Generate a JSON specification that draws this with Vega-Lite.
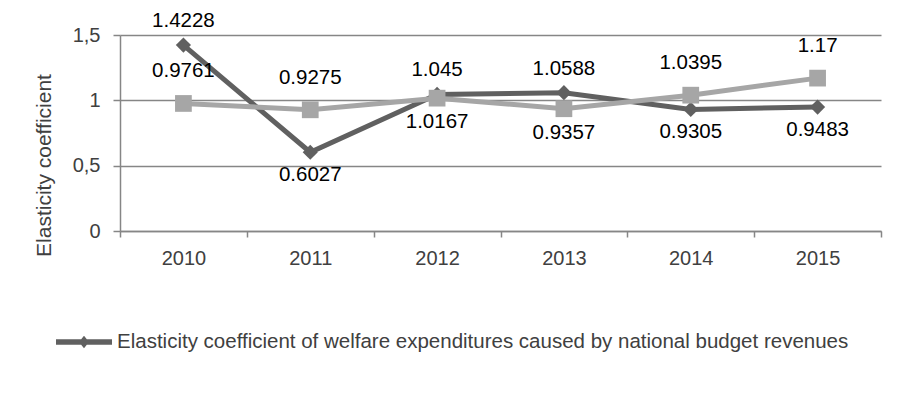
{
  "$schema": "https://vega.github.io/schema/vega-lite/v6.json",
  "width": 761,
  "height": 196,
  "autosize": {"type": "none"},
  "padding": {"left": 120, "top": 35, "right": 30, "bottom": 171},
  "background": "white",
  "config": {"view": {"stroke": null}, "font": "Liberation Sans"},
  "data": {
    "values": [
      {"year": "2010", "series": "Elasticity coefficient of welfare expenditures caused by national budget revenues", "value": 1.4228},
      {"year": "2011", "series": "Elasticity coefficient of welfare expenditures caused by national budget revenues", "value": 0.6027},
      {"year": "2012", "series": "Elasticity coefficient of welfare expenditures caused by national budget revenues", "value": 1.045},
      {"year": "2013", "series": "Elasticity coefficient of welfare expenditures caused by national budget revenues", "value": 1.0588},
      {"year": "2014", "series": "Elasticity coefficient of welfare expenditures caused by national budget revenues", "value": 0.9305},
      {"year": "2015", "series": "Elasticity coefficient of welfare expenditures caused by national budget revenues", "value": 0.9483},
      {"year": "2010", "series": "Series 2", "value": 0.9761},
      {"year": "2011", "series": "Series 2", "value": 0.9275},
      {"year": "2012", "series": "Series 2", "value": 1.0167},
      {"year": "2013", "series": "Series 2", "value": 0.9357},
      {"year": "2014", "series": "Series 2", "value": 1.0395},
      {"year": "2015", "series": "Series 2", "value": 1.17}
    ]
  },
  "encoding": {
    "x": {
      "field": "year", "type": "ordinal",
      "scale": {"type": "band", "paddingInner": 0, "paddingOuter": 0},
      "axis": {
        "title": null, "tickBand": "extent", "labelAngle": 0, "grid": false,
        "labelFontSize": 20, "labelColor": "#404040", "labelPadding": 11,
        "domainColor": "#868686", "domainWidth": 1.5,
        "tickColor": "#868686", "tickWidth": 1.5, "tickSize": 6
      }
    },
    "y": {
      "field": "value", "type": "quantitative",
      "scale": {"domain": [0, 1.5]},
      "axis": {
        "title": "Elasticity coefficient", "titleFontSize": 21, "titleFontWeight": "normal",
        "titleColor": "#404040", "titlePadding": 18, "titleY": 130,
        "values": [0, 0.5, 1, 1.5],
        "labelExpr": "replace(toString(datum.value), '.', ',')",
        "labelFontSize": 20, "labelColor": "#404040", "labelPadding": 13,
        "tickSize": 7, "tickColor": "#868686", "tickWidth": 1.5,
        "domainColor": "#868686", "domainWidth": 1.5,
        "grid": true, "gridColor": "#868686", "gridWidth": 1.5
      }
    }
  },
  "layer": [
    {
      "transform": [{"filter": "datum.series !== 'Series 2'"}],
      "mark": {"type": "line", "strokeWidth": 5},
      "encoding": {
        "color": {
          "field": "series", "type": "nominal",
          "scale": {"range": ["#606060"]},
          "legend": {
            "orient": "none", "legendX": -64, "legendY": 279, "title": null,
            "symbolType": "M-1,-0.1H1V0.1H-1Z M-0.18,0L0,-0.22L0.18,0L0,0.22Z",
            "symbolSize": 3136, "symbolFillColor": "#606060", "symbolStrokeWidth": 0,
            "labelFontSize": 20.5, "labelColor": "#404040", "labelLimit": 900, "labelOffset": 5,
            "encode": {"symbols": {"update": {"fill": {"value": "#606060"}, "strokeWidth": {"value": 0}}}}
          }
        }
      }
    },
    {
      "transform": [{"filter": "datum.series === 'Series 2'"}],
      "mark": {"type": "line", "strokeWidth": 5, "color": "#a6a6a6"}
    },
    {
      "transform": [{"filter": "datum.series !== 'Series 2'"}],
      "mark": {"type": "point", "shape": "diamond", "filled": true, "size": 230, "color": "#606060", "opacity": 1}
    },
    {
      "transform": [{"filter": "datum.series === 'Series 2'"}],
      "mark": {"type": "point", "shape": "square", "filled": true, "size": 280, "color": "#a6a6a6", "opacity": 1}
    },
    {
      "transform": [{"filter": "datum.series !== 'Series 2' && indexof(['2010','2012','2013'], datum.year) >= 0"}],
      "mark": {"type": "text", "fontSize": 20.5, "color": "#000000", "dy": -24},
      "encoding": {"text": {"field": "value", "type": "nominal"}}
    },
    {
      "transform": [{"filter": "datum.series !== 'Series 2' && indexof(['2011','2014','2015'], datum.year) >= 0"}],
      "mark": {"type": "text", "fontSize": 20.5, "color": "#000000", "dy": 23},
      "encoding": {"text": {"field": "value", "type": "nominal"}}
    },
    {
      "transform": [{"filter": "datum.series === 'Series 2' && indexof(['2010','2011','2014','2015'], datum.year) >= 0"}],
      "mark": {"type": "text", "fontSize": 20.5, "color": "#000000", "dy": -32},
      "encoding": {"text": {"field": "value", "type": "nominal"}}
    },
    {
      "transform": [{"filter": "datum.series === 'Series 2' && indexof(['2012','2013'], datum.year) >= 0"}],
      "mark": {"type": "text", "fontSize": 20.5, "color": "#000000", "dy": 24},
      "encoding": {"text": {"field": "value", "type": "nominal"}}
    }
  ]
}
